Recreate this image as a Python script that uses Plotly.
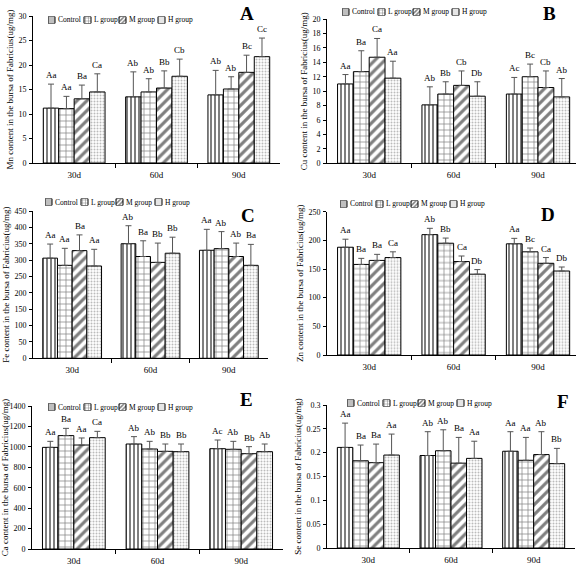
import plotly.graph_objects as go

periods = ["30d", "60d", "90d"]
groups = ["Control", "L group", "M group", "H group"]

# Mn (A)
mn_mean = [[11.2, 13.5, 13.9], [11.1, 14.5, 15.1], [13.1, 15.3, 18.5], [14.5, 17.7, 21.7]]
mn_sd = [[4.9, 5.1, 5.0], [2.5, 2.7, 2.5], [2.8, 3.5, 3.5], [3.7, 3.5, 3.8]]
mn_sig = [["Aa", "Ab", "Ab"], ["Aa", "Ab", "Ab"], ["Ba", "Bb", "Bc"], ["Ca", "Cb", "Cc"]]
# Cu (B)
cu_mean = [[11.0, 8.1, 9.6], [12.7, 9.6, 12.0], [14.7, 10.8, 10.5], [11.8, 9.3, 9.2]]
cu_sd = [[1.3, 2.5, 2.3], [2.9, 1.7, 1.75], [2.6, 2.0, 2.3], [2.35, 2.0, 2.55]]
cu_sig = [["Aa", "Ab", "Ac"], ["Ba", "Bb", "Bc"], ["Ca", "Cb", "Cb"], ["Aa", "Db", "Ab"]]
# Fe (C)
fe_mean = [[306, 350, 330], [284, 311, 335], [329, 293, 311], [282, 321, 284]]
fe_sd = [[43, 55, 64], [52, 48, 52], [48, 59, 41], [51, 49, 64]]
fe_sig = [["Aa", "Ab", "Aa"], ["Aa", "Ba", "Ab"], ["Ba", "Bb", "Ab"], ["Aa", "Bb", "Ba"]]
# Zn (D)
zn_mean = [[188, 210, 194], [158, 195, 180], [165, 163, 160], [170, 141, 146.5]]
zn_sd = [[14, 11, 9.5], [10.6, 9, 6.6], [10.6, 9.7, 10], [10, 8, 7]]
zn_sig = [["Aa", "Ab", "Aa"], ["Ba", "Bb", "Bc"], ["Ba", "Ca", "Ca"], ["Ca", "Db", "Db"]]
# Ca (E)
ca_mean = [[995, 1028, 982], [1110, 979, 976], [1018, 956, 933], [1090, 953, 953]]
ca_sd = [[59, 72, 85], [71, 75, 78], [69, 72, 69], [62, 75, 75]]
ca_sig = [["Aa", "Ab", "Ac"], ["Ba", "Ab", "Ab"], ["Aa", "Bb", "Bb"], ["Ca", "Bb", "Ab"]]
# Se (F)
se_mean = [[0.211, 0.194, 0.203], [0.183, 0.204, 0.184], [0.179, 0.178, 0.196], [0.195, 0.188, 0.177]]
se_sd = [[0.051, 0.050, 0.041], [0.033, 0.044, 0.048], [0.039, 0.054, 0.048], [0.044, 0.036, 0.032]]
se_sig = [["Aa", "Ab", "Aa"], ["Ba", "Ab", "Aa"], ["Ba", "Ba", "Ab"], ["Aa", "Aa", "Bb"]]

W, H = 576, 568
SERIF = "Liberation Serif"

def fx(a):
    return a / W

def fy(a):
    return 1 - a / H

def px_x(a, b):
    return [fx(a), min(1.0, fx(b))]

def px_y(top, bottom):
    return [fy(bottom), min(1.0, fy(top))]

panels = [
    dict(letter="A", el="Mn", mean=mn_mean, sd=mn_sd, sig=mn_sig, ymax=30, dtick=5,
         xd=px_x(33, 280), xr=[-0.5, 2.5], yd=px_y(16, 163), leg=(48, 20), let=(247, 13)),
    dict(letter="B", el="Cu", mean=cu_mean, sd=cu_sd, sig=cu_sig, ymax=20, dtick=2,
         xd=px_x(327, 576), xr=[-0.5, 2.45], yd=px_y(19, 163.3), leg=(342, 12), let=(549, 13)),
    dict(letter="C", el="Fe", mean=fe_mean, sd=fe_sd, sig=fe_sig, ymax=450, dtick=50,
         xd=px_x(33, 268), xr=[-0.5, 2.5], yd=px_y(211, 358.3), leg=(45, 202), let=(248, 216)),
    dict(letter="D", el="Zn", mean=zn_mean, sd=zn_sd, sig=zn_sig, ymax=250, dtick=50,
         xd=px_x(327, 576), xr=[-0.5, 2.45], yd=px_y(211.7, 355), leg=(340, 204), let=(548, 214)),
    dict(letter="E", el="Ca", mean=ca_mean, sd=ca_sd, sig=ca_sig, ymax=1400, dtick=200,
         xd=px_x(32, 283), xr=[-0.5, 2.5], yd=px_y(406, 549), leg=(48, 407), let=(246, 399)),
    dict(letter="F", el="Se", mean=se_mean, sd=se_sd, sig=se_sig, ymax=0.3, dtick=0.05,
         xd=px_x(327, 575), xr=[-0.5, 2.5], yd=px_y(405, 548), leg=(347, 403), let=(563, 402)),
]

patterns = [
    dict(shape="|", size=4, solidity=0.5, fgcolor="black", bgcolor="white"),
    dict(shape="+", size=6, solidity=0.22, fgcolor="black", bgcolor="white"),
    dict(shape="/", size=7, solidity=0.45, fgcolor="black", bgcolor="white"),
    dict(shape=".", size=3, solidity=0.35, fgcolor="#777777", bgcolor="white"),
]
swatch_patterns = [
    dict(shape="|", size=2, solidity=0.5, fgcolor="black", bgcolor="white"),
    dict(shape="+", size=3, solidity=0.3, fgcolor="black", bgcolor="white"),
    dict(shape="/", size=3, solidity=0.5, fgcolor="black", bgcolor="white"),
    dict(shape=".", size=2, solidity=0.4, fgcolor="#777777", bgcolor="white"),
]

# legend layout (pixel offsets of each swatch from the legend's left edge)
LEG_OFFSETS = [0, 36, 71, 110]
LEG_SW = 7
LEG_SPAN = 150

BARGAP = 0.25
bw = (1 - BARGAP) / len(groups)
TXT = dict(family=SERIF, color="black")

fig = go.Figure()
annotations = []
layout = {}
n = len(panels)
for p_i, p in enumerate(panels):
    k = "" if p_i == 0 else str(p_i + 1)
    xa, ya = "x" + k, "y" + k
    for g_i, g in enumerate(groups):
        fig.add_trace(go.Bar(
            x=[0, 1, 2], y=p["mean"][g_i], name=g, xaxis=xa, yaxis=ya, showlegend=False,
            marker=dict(color="white", line=dict(color="black", width=1), pattern=patterns[g_i]),
            error_y=dict(type="data", array=p["sd"][g_i], arrayminus=[0, 0, 0], symmetric=False,
                         color="#555555", thickness=1, width=3),
        ))
        for t_i in range(3):
            annotations.append(dict(
                x=t_i + (g_i - 1.5) * bw, y=p["mean"][g_i][t_i] + p["sd"][g_i][t_i],
                xref=xa, yref=ya, text=p["sig"][g_i][t_i], showarrow=False,
                yanchor="bottom", yshift=2, font=dict(size=9, **TXT),
            ))
    annotations.append(dict(
        x=fx(p["let"][0]), y=fy(p["let"][1]), xref="paper", yref="paper",
        text="<b>%s</b>" % p["letter"], showarrow=False, xanchor="center", yanchor="middle",
        font=dict(size=19, **TXT),
    ))
    layout["xaxis" + k] = dict(
        domain=p["xd"], range=p["xr"], anchor=ya, tickmode="array", tickvals=[0, 1, 2],
        ticktext=periods, ticks="", showline=True, linecolor="black", linewidth=1,
        showgrid=False, zeroline=False, tickfont=dict(size=9, **TXT),
        ticklabelstandoff=3, automargin=False,
        minor=dict(tickmode="array", tickvals=[0.5, 1.5], ticks="outside", ticklen=4,
                   tickcolor="black", showgrid=False),
    )
    layout["yaxis" + k] = dict(
        domain=p["yd"], range=[0, p["ymax"]], anchor=xa, dtick=p["dtick"], tick0=0,
        ticks="outside", ticklen=3, tickcolor="black", showline=True, linecolor="black",
        linewidth=1, showgrid=False, zeroline=False, tickfont=dict(size=8, **TXT),
        ticklabelstandoff=1, automargin=False,
        title=dict(text="%s content in the bursa of Fabricius(ug/mg)" % p["el"],
                   font=dict(size=9, **TXT), standoff=3),
    )

    # compact legend: pattern swatches on a small helper axis + text labels
    lk = str(n + p_i + 1)
    lx, ly = p["leg"]
    layout["xaxis" + lk] = dict(domain=[fx(lx), fx(lx + LEG_SPAN)], range=[0, LEG_SPAN],
                                anchor="y" + lk, visible=False, fixedrange=True, automargin=False)
    layout["yaxis" + lk] = dict(domain=[fy(ly + LEG_SW / 2), fy(ly - LEG_SW / 2)],
                                range=[0, 1], anchor="x" + lk, visible=False, fixedrange=True,
                                automargin=False)
    for g_i, g in enumerate(groups):
        fig.add_trace(go.Bar(
            x=[LEG_OFFSETS[g_i]], y=[1], base=0, width=LEG_SW, offset=0,
            xaxis="x" + lk, yaxis="y" + lk, name=g, showlegend=False, hoverinfo="skip",
            marker=dict(color="white", line=dict(color="black", width=1),
                        pattern=swatch_patterns[g_i]),
        ))
        annotations.append(dict(
            x=fx(lx + LEG_OFFSETS[g_i] + LEG_SW + 1), y=fy(ly), xref="paper", yref="paper",
            text=g, showarrow=False, xanchor="left", yanchor="middle",
            font=dict(size=7.5, **TXT),
        ))

fig.update_layout(**layout)
fig.update_layout(
    width=W, height=H, margin=dict(l=0, r=0, t=0, b=0, autoexpand=False),
    paper_bgcolor="white", plot_bgcolor="white", showlegend=False,
    barmode="group", bargap=BARGAP, bargroupgap=0,
    annotations=annotations,
)
# the page body's default 8px margin would shift the figure; remove it
fig.write_html("out.html", config={"displayModeBar": False},
               post_script="document.body.style.margin='0px';")
